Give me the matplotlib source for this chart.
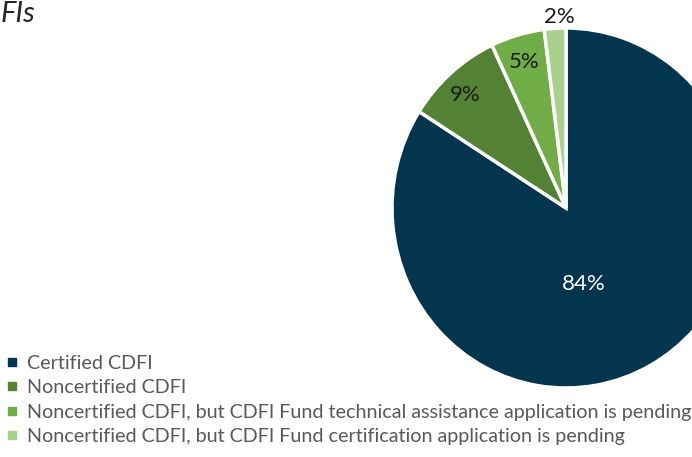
import matplotlib.pyplot as plt
from matplotlib.lines import Line2D

categories = [
    'Certified CDFI',
    'Noncertified CDFI',
    'Noncertified CDFI, but CDFI Fund technical assistance application is pending',
    'Noncertified CDFI, but CDFI Fund certification application is pending',
]
shares = [84, 9, 5, 2]
colors = ['#03364e', '#548235', '#70ad47', '#a9d18e']
label_pos = [(0.10, -0.42), (-0.58, 0.63), (-0.24, 0.81), (-0.04, 1.06)]
label_colors = ['white', '#1a1a1a', '#1a1a1a', '#1a1a1a']

plt.rcParams['font.family'] = ['Lato', 'DejaVu Sans']

W, H = 692, 457
fig = plt.figure(figsize=(W / 100, H / 100), dpi=100)

# pie centre at (566, 208) px; slightly squashed like the source image
cx, cy, rx, ry = 566, 208, 174, 180
ax = fig.add_axes([(cx - rx) / W, (H - cy - ry) / H, 2 * rx / W, 2 * ry / H])
ax.pie(shares, colors=colors, startangle=90, counterclock=False, radius=1,
       wedgeprops=dict(edgecolor='white', linewidth=2.5))
ax.set_aspect('auto')
ax.set_xlim(-1, 1)
ax.set_ylim(-1, 1)
ax.axis('off')

for v, (x, y), c in zip(shares, label_pos, label_colors):
    ax.text(x, y, f'{v}%', color=c, fontsize=16, ha='center', va='center')

fig.text(1 / W, 1 - 14 / H, 'FIs', fontsize=21, style='italic', color='#262626',
         ha='left', va='center')

handles = [Line2D([], [], marker='s', linestyle='none', markersize=6,
                  markerfacecolor=c, markeredgecolor=c) for c in colors]
fig.legend(handles, categories, loc='upper left', bbox_to_anchor=(0.0, 1 - 351 / H),
           frameon=False, fontsize=14.2, labelcolor='#595959', handlelength=0.8,
           handletextpad=0.35, labelspacing=0.37, borderaxespad=0, borderpad=0.2)

fig.savefig('out.png', dpi=100)
